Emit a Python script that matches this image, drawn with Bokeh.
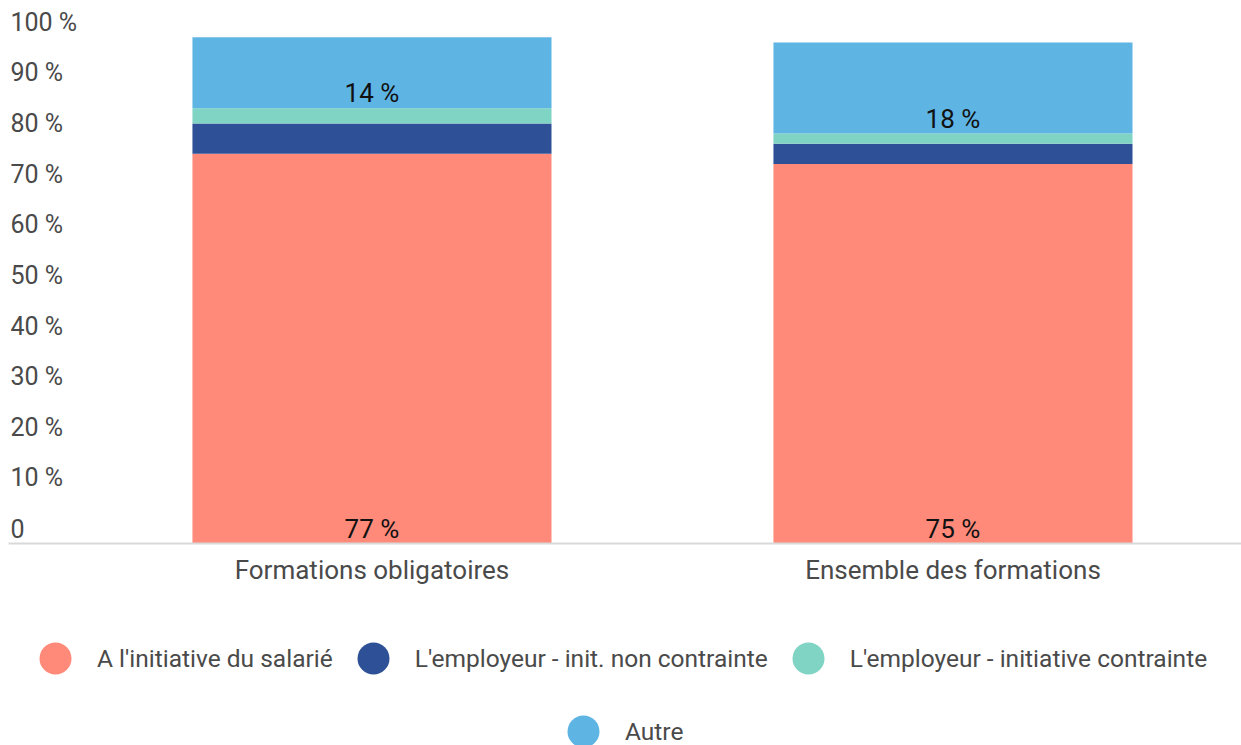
from bokeh.plotting import figure
from bokeh.layouts import column
from bokeh.models import (ColumnDataSource, Range1d, FixedTicker, LabelSet,
                          Legend, LegendItem)
from bokeh.embed import file_html
from bokeh.resources import INLINE
from bokeh.core.properties import value

# ---------------- data ----------------
categories = ["Formations obligatoires", "Ensemble des formations"]
series_names = ["A l'initiative du salarié",
                "L'employeur - init. non contrainte",
                "L'employeur - initiative contrainte",
                "Autre"]
salarie = [77, 75]
non_contrainte = [6, 4]
contrainte = [3, 2]
autre = [14, 18]
y_ticks = [0, 10, 20, 30, 40, 50, 60, 70, 80, 90, 100]
y_tick_labels = ["0", "10 %", "20 %", "30 %", "40 %", "50 %",
                 "60 %", "70 %", "80 %", "90 %", "100 %"]

# ---------------- style ----------------
colors = ["#ff8a7a", "#2e5096", "#7fd4c4", "#5eb5e4"]
FONT = "Roboto"
AXIS_COLOR = "#4a4a4a"
X_START, X_END = -0.6256, 1.4966
Y_END = 105.7
W = 1241

keys = ["salarie", "non_contrainte", "contrainte", "autre"]
xs = list(range(len(categories)))
src = ColumnDataSource(dict(x=xs, salarie=salarie, non_contrainte=non_contrainte,
                            contrainte=contrainte, autre=autre))

p = figure(width=W, height=618, x_range=Range1d(X_START, X_END),
           y_range=Range1d(0, Y_END), output_backend="svg", toolbar_location=None,
           y_axis_location=None, min_border_left=8, min_border_right=0,
           min_border_top=8, min_border_bottom=75)
p.outline_line_color = None
p.grid.visible = False

p.vbar_stack(keys, x="x", width=0.618, fill_color=colors, line_color=None, source=src)

# x axis
ax = p.xaxis[0]
ax.ticker = FixedTicker(ticks=xs)
ax.major_label_overrides = {i: c for i, c in zip(xs, categories)}
ax.axis_line_color = "#d9d9d9"
ax.axis_line_width = 2
ax.major_tick_line_color = None
ax.minor_tick_line_color = None
ax.major_label_text_font = FONT
ax.major_label_text_font_size = "26px"
ax.major_label_text_color = AXIS_COLOR
ax.major_label_standoff = 5

# y tick labels
ysrc = ColumnDataSource(dict(x=[X_START] * len(y_ticks), y=y_ticks, text=y_tick_labels))
p.add_layout(LabelSet(x="x", y="y", text="text", source=ysrc, x_offset=2, y_offset=15,
                      text_align="left", text_baseline="middle",
                      text_font=value(FONT), text_font_size="25px",
                      text_color=AXIS_COLOR))

# data labels (salarié at its bottom, autre at its bottom)
lab_y = [0] * len(xs) + [a + b + c for a, b, c in zip(salarie, non_contrainte, contrainte)]
lab_t = [f"{v} %" for v in salarie] + [f"{v} %" for v in autre]
lsrc = ColumnDataSource(dict(x=xs + xs, y=lab_y, text=lab_t))
p.add_layout(LabelSet(x="x", y="y", text="text", source=lsrc, y_offset=15,
                      text_align="center", text_baseline="middle",
                      text_font=value(FONT), text_font_size="26px",
                      text_color="#111111"))

# legend figure (circle markers)
q = figure(width=W, height=127, x_range=Range1d(0, 1), y_range=Range1d(0, 1),
           output_backend="svg", toolbar_location=None,
           x_axis_location=None, y_axis_location=None,
           min_border_left=0, min_border_right=0, min_border_top=0, min_border_bottom=0)
q.outline_line_color = None
q.grid.visible = False
nan = float("nan")
rends = [q.scatter(x=[nan], y=[nan], marker="circle", fill_color=c, line_color=None)
         for c in colors]
common = dict(orientation="horizontal", glyph_width=80, glyph_height=80,
              label_standoff=2, spacing=-3, padding=0, margin=0,
              border_line_color=None, background_fill_alpha=0,
              label_text_font=FONT, label_text_font_size="24.5px",
              label_text_color=AXIS_COLOR, label_text_baseline="middle")
leg1 = Legend(items=[LegendItem(label=series_names[i], renderers=[rends[i]]) for i in range(3)],
              location=(7, 47), **common)
leg2 = Legend(items=[LegendItem(label=series_names[3], renderers=[rends[3]])],
              location=(535, -26), **common)
q.add_layout(leg1)
q.add_layout(leg2)

layout = column(p, q, spacing=0)
open("out.html", "w").write(file_html(layout, INLINE))
